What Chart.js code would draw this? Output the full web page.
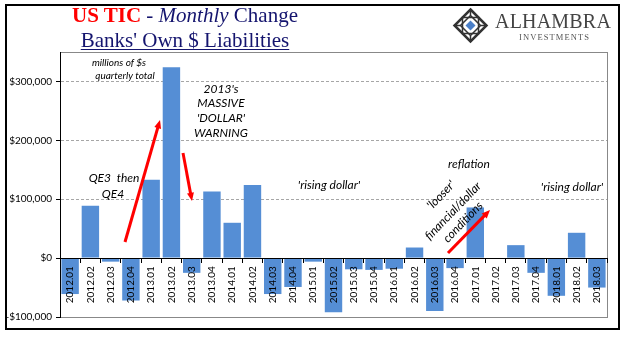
<!DOCTYPE html>
<html>
<head>
<meta charset="utf-8">
<script src="https://cdn.jsdelivr.net/npm/chart.js@4.4.1/dist/chart.umd.min.js"></script>
<style>
  body { margin: 0; background: #fff; }
  #wrap { position: relative; width: 641px; height: 341px; }
  #title { position: absolute; left: 35px; width: 300px; top: 3px; text-align: center;
           font-family: 'Liberation Serif', serif; color: #14146e; font-size: 21px; line-height: 25px; }
  #title .red { color: #ff0000; font-weight: bold; }
  #title u { text-decoration-thickness: 1px; text-underline-offset: 2px; }
  #logo1 { position: absolute; left: 495px; top: 10px; font-family: 'Liberation Serif', serif;
           font-size: 20px; color: #444; letter-spacing: 0.2px; }
  #logo2 { position: absolute; left: 519px; top: 32px; font-family: 'Liberation Serif', serif;
           font-size: 8.5px; color: #555; letter-spacing: 1.1px; }
</style>
</head>
<body>
<div id="wrap">
  <canvas id="chart" width="641" height="341"></canvas>
  <div id="title"><span class="red">US TIC</span> - <i>Monthly</i> Change<br><u>Banks' Own $ Liabilities</u></div>
  <div id="logo1">ALHAMBRA</div>
  <div id="logo2">INVESTMENTS</div>
</div>
<script>
const quarters = ['2012.01', '2012.02', '2012.03', '2012.04', '2013.01', '2013.02', '2013.03', '2013.04',
  '2014.01', '2014.02', '2014.03', '2014.04', '2015.01', '2015.02', '2015.03', '2015.04',
  '2016.01', '2016.02', '2016.03', '2016.04', '2017.01', '2017.02', '2017.03', '2017.04',
  '2018.01', '2018.02', '2018.03'];

// millions of $, quarterly totals
const liabilities = [-61000, 89000, -6000, -72000, 133000, 324000, -25000, 113000,
  60000, 124000, -61000, -49000, -6000, -92000, -19000, -20000,
  -18000, 18000, -90000, -17000, 86000, 0, 22000, -25000,
  -64000, 43000, -50000];

const yTicks = [-100000, 0, 100000, 200000, 300000];

function money(v) {
  const s = '$' + Math.abs(v).toLocaleString('en-US');
  return v < 0 ? '-' + s : s;
}

function arrow(ctx, x1, y1, x2, y2) {
  const a = Math.atan2(y2 - y1, x2 - x1);
  const h = 9;
  ctx.save();
  ctx.strokeStyle = '#ff0000';
  ctx.fillStyle = '#ff0000';
  ctx.lineWidth = 3;
  ctx.beginPath();
  ctx.moveTo(x1, y1);
  ctx.lineTo(x2 - Math.cos(a) * h * 0.8, y2 - Math.sin(a) * h * 0.8);
  ctx.stroke();
  ctx.beginPath();
  ctx.moveTo(x2, y2);
  ctx.lineTo(x2 - h * Math.cos(a - 0.4), y2 - h * Math.sin(a - 0.4));
  ctx.lineTo(x2 - h * Math.cos(a + 0.4), y2 - h * Math.sin(a + 0.4));
  ctx.closePath();
  ctx.fill();
  ctx.restore();
}

// frame, plot border and logo mark
const backdrop = {
  id: 'backdrop',
  beforeDraw(chart) {
    const { ctx, chartArea: a } = chart;
    ctx.save();
    ctx.fillStyle = '#fff';
    ctx.fillRect(0, 0, chart.width, chart.height);
    ctx.strokeStyle = '#000';
    ctx.lineWidth = 2;
    ctx.strokeRect(6, 5, 613, 324);
    ctx.strokeStyle = '#888';
    ctx.lineWidth = 1;
    ctx.strokeRect(a.left + 0.5, a.top + 0.5, a.right - a.left, a.bottom - a.top);

    // logo diamond
    const cx = 470.5, cy = 25.5;
    const d = (r) => {
      ctx.beginPath();
      ctx.moveTo(cx, cy - r); ctx.lineTo(cx + r, cy); ctx.lineTo(cx, cy + r); ctx.lineTo(cx - r, cy);
      ctx.closePath();
    };
    ctx.strokeStyle = '#333';
    ctx.lineWidth = 2.5;
    d(16); ctx.stroke();
    ctx.lineWidth = 1.5;
    d(10); ctx.stroke();
    ctx.strokeRect(cx - 8, cy - 8, 16, 16);
    ctx.beginPath();
    ctx.moveTo(cx - 16, cy); ctx.lineTo(cx - 10, cy);
    ctx.moveTo(cx + 10, cy); ctx.lineTo(cx + 16, cy);
    ctx.moveTo(cx, cy - 16); ctx.lineTo(cx, cy - 10);
    ctx.moveTo(cx, cy + 10); ctx.lineTo(cx, cy + 16);
    ctx.stroke();
    ctx.fillStyle = '#4a7fc8';
    d(5); ctx.fill();
    ctx.restore();
  }
};

const notes = {
  id: 'notes',
  afterDraw(chart) {
    const ctx = chart.ctx;
    ctx.save();
    ctx.fillStyle = '#000';
    ctx.textAlign = 'center';
    ctx.textBaseline = 'middle';
    ctx.font = 'italic 10px Lato';
    ctx.fillText('millions of $s', 119, 63);
    ctx.fillText('quarterly total', 125, 76);
    ctx.font = 'italic 12px Lato';
    ctx.fillText("2013's", 221, 89);
    ctx.fillText('MASSIVE', 221, 103);
    ctx.fillText("'DOLLAR'", 221, 118);
    ctx.fillText('WARNING', 221, 133);
    ctx.fillText('QE3  then', 114, 178);
    ctx.fillText('QE4', 113, 194);
    ctx.fillText("'rising dollar'", 329, 185);
    ctx.fillText('reflation', 469, 164);
    ctx.fillText("'rising dollar'", 572, 187);
    const rot = (t, x, y) => {
      ctx.save();
      ctx.translate(x, y);
      ctx.rotate(-46 * Math.PI / 180);
      ctx.fillText(t, 0, 0);
      ctx.restore();
    };
    rot("'looser'", 441, 195);
    rot('financial/dollar', 453, 211);
    rot('conditions', 463, 222);
    ctx.restore();

    arrow(ctx, 125, 242, 160, 120);
    arrow(ctx, 183, 153, 192, 201);
    arrow(ctx, 448, 253, 490, 210);
  }
};

new Chart(document.getElementById('chart'), {
  type: 'bar',
  data: {
    labels: quarters,
    datasets: [{
      data: liabilities,
      backgroundColor: '#558ed5',
      categoryPercentage: 1,
      barPercentage: 0.86
    }]
  },
  options: {
    responsive: false,
    animation: false,
    layout: { padding: { left: 0, top: 52, right: 34, bottom: 24 } },
    plugins: { legend: { display: false }, tooltip: { enabled: false }, title: { display: false } },
    scales: {
      x: {
        position: { y: 0 },
        grid: { drawOnChartArea: false, drawTicks: true, tickLength: 4, tickColor: '#000', z: 1 },
        border: { display: true, color: '#000', width: 1, z: 1 },
        ticks: {
          autoSkip: false, minRotation: 90, maxRotation: 90, padding: 4, z: 1,
          color: '#000', font: { family: 'Lato', size: 10 }
        }
      },
      y: {
        min: -100000,
        max: 350000,
        afterBuildTicks: (axis) => { axis.ticks = yTicks.map(v => ({ value: v })); },
        afterFit: (axis) => { axis.width = 60; },
        grid: {
          color: (c) => (c.tick && (c.tick.value === 0 || c.tick.value === -100000)) ? 'rgba(0,0,0,0)' : '#a6a6a6',
          tickColor: '#000',
          tickLength: 4,
          tickBorderDash: []
        },
        border: { display: true, color: '#000', width: 1, dash: [3, 2] },
        ticks: {
          padding: 4, color: '#000', font: { family: 'Lato', size: 10 },
          callback: (v) => money(v)
        }
      }
    }
  },
  plugins: [backdrop, notes]
});
</script>
</body>
</html>
